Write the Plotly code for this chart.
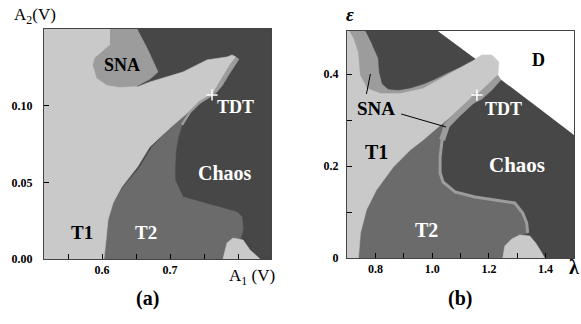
import plotly.graph_objects as go

# ---------------- colours ----------------
C_T1 = "#c9c9c9"
C_T2 = "#6b6b6b"
C_CH = "#474747"
C_SNA = "#9c9c9c"
FONT = "Liberation Serif"

# ---------------- panel (a) region boundaries (A1, A2) ----------------
a_t2_x = [0.6029, 0.6059, 0.6088, 0.6162, 0.6309, 0.6559, 0.6735, 0.7000, 0.7338, 0.7618,
          0.7441, 0.7294, 0.7176, 0.7118, 0.7088, 0.7074, 0.7074, 0.7191, 0.7441, 0.7691,
          0.7985, 0.8059, 0.8074, 0.8029, 0.7838, 0.7779]
a_t2_y = [0.0, 0.0124, 0.0255, 0.0366, 0.0471, 0.0601, 0.0732, 0.0856, 0.0987, 0.1072,
          0.1026, 0.0961, 0.0876, 0.0791, 0.0712, 0.0614, 0.0516, 0.0405, 0.0373, 0.0340,
          0.0307, 0.0275, 0.0190, 0.0124, 0.0105, 0.0]
a_patch_x = [0.7779, 0.7838, 0.7926, 0.8074, 0.8176, 0.8324]
a_patch_y = [0.0, 0.0105, 0.0137, 0.0124, 0.0059, 0.0]
a_t1_x = [0.5147, 0.6029, 0.6059, 0.6088, 0.6162, 0.6290, 0.6520, 0.6700, 0.7000, 0.7338, 0.7618,
          0.7691, 0.7765, 0.7882, 0.7971, 0.7912, 0.7838, 0.7544, 0.7191, 0.6853, 0.6706, 0.6515,
          0.6191, 0.5147]
a_t1_y = [0.0, 0.0, 0.0124, 0.0255, 0.0366, 0.0471, 0.0601, 0.0732, 0.0856, 0.0987, 0.1072,
          0.1124, 0.1183, 0.1268, 0.1320, 0.1333, 0.1320, 0.1301, 0.1222, 0.1176, 0.1157, 0.1124,
          0.1503, 0.1503]
a_sna_x = [0.6118, 0.6515, 0.6662, 0.6750, 0.6824, 0.6706, 0.6515, 0.6265, 0.6074, 0.5926,
           0.5868, 0.5897, 0.6118]
a_sna_y = [0.1503, 0.1503, 0.1379, 0.1288, 0.1222, 0.1176, 0.1131, 0.1124, 0.1137, 0.1183,
           0.1268, 0.1314, 0.1399]
a_fringe_x = [0.7971, 0.7882, 0.7765, 0.7691, 0.7618, 0.7676, 0.7765, 0.7853, 0.7941, 0.8015]
a_fringe_y = [0.1320, 0.1268, 0.1183, 0.1124, 0.1072, 0.1085, 0.1131, 0.1196, 0.1261, 0.1307]
a_edge_x = [0.7618, 0.7441, 0.7294, 0.7176]
a_edge_y = [0.1072, 0.1026, 0.0961, 0.0876]
a_tdt = (0.7618, 0.1072)

# ---------------- panel (b) region boundaries (lambda, epsilon) ----------------
b_d_x = [1.0175, 1.5, 1.5]
b_d_y = [0.4935, 0.4935, 0.2674]
b_t2_x = [0.7404, 0.7474, 0.7684, 0.8035, 0.8632, 0.9228, 0.9684, 1.0175, 1.0877, 1.1579,
          1.1404, 1.0982, 1.0526, 1.0351, 1.0281, 1.0281, 1.0386, 1.0807, 1.1509, 1.2211,
          1.2912, 1.3193, 1.3333, 1.3368, 1.3018, 1.2667, 1.2491]
b_t2_y = [0.0, 0.0543, 0.1043, 0.1478, 0.1978, 0.2348, 0.2565, 0.2826, 0.3174, 0.3543,
          0.3413, 0.3174, 0.2891, 0.2565, 0.2196, 0.1848, 0.1652, 0.1435, 0.1326, 0.1261,
          0.1196, 0.0978, 0.0761, 0.0543, 0.0478, 0.0326, 0.0]
b_patch_x = [1.2491, 1.2561, 1.2807, 1.3088, 1.3439, 1.3649, 1.3825, 1.3965]
b_patch_y = [0.0, 0.0261, 0.0413, 0.0500, 0.0478, 0.0326, 0.0152, 0.0]
b_t1_x = [0.70, 0.7404, 0.7474, 0.7684, 0.8035, 0.8632, 0.9228, 0.9684, 1.0175, 1.0877, 1.1579,
          1.1965, 1.2316, 1.2351, 1.2105, 1.1754, 1.1509, 1.0175, 0.70]
b_t1_y = [0.0, 0.0, 0.0543, 0.1043, 0.1478, 0.1978, 0.2348, 0.2565, 0.2826, 0.3174, 0.3543,
          0.3761, 0.3978, 0.4261, 0.4413, 0.4413, 0.4326, 0.4935, 0.4935]
b_sna_x = [0.7088, 1.0175, 1.1509, 1.0526, 0.9684, 0.8877, 0.8175, 0.7719, 0.7474, 0.7404, 0.7263]
b_sna_y = [0.4935, 0.4935, 0.4326, 0.3978, 0.3696, 0.3587, 0.3587, 0.3696, 0.3978, 0.4478, 0.4739]
b_lobe_x = [0.7649, 1.0175, 1.1509, 1.0982, 1.0526, 1.0105, 0.9684, 0.9228, 0.8807, 0.8456,
            0.8246, 0.8140, 0.8105, 0.7895]
b_lobe_y = [0.4935, 0.4935, 0.4326, 0.4152, 0.4022, 0.3891, 0.3783, 0.3696, 0.3652, 0.3674,
            0.3783, 0.4043, 0.4348, 0.4630]
b_fringe_x = [1.1579, 1.1965, 1.2316, 1.2421, 1.2105, 1.1754, 1.1404]
b_fringe_y = [0.3543, 0.3761, 0.3978, 0.3870, 0.3652, 0.3457, 0.3348]
b_edge_x = [1.1579, 1.1404, 1.0982, 1.0526, 1.0351, 1.0281, 1.0281, 1.0386, 1.0807, 1.1509,
            1.2211, 1.2912, 1.3193, 1.3333, 1.3368]
b_edge_y = [0.3543, 0.3413, 0.3174, 0.2891, 0.2565, 0.2196, 0.1848, 0.1652, 0.1435, 0.1326,
            0.1261, 0.1196, 0.0978, 0.0761, 0.0543]
b_ptr1_x = [0.7684, 0.7825]
b_ptr1_y = [0.3565, 0.4000]
b_ptr2_x = [0.8912, 1.0490]
b_ptr2_y = [0.3130, 0.2848]
b_tdt = (1.1579, 0.3543)

# ticks (labelled major ticks + unlabelled minor ticks)
a_xticks = [0.60, 0.70]
a_xtext = ["0.6", "0.7"]
a_xminor = [0.55, 0.65, 0.75, 0.80]
a_yticks = [0.0, 0.05, 0.10]
a_ytext = ["0.00", "0.05", "0.10"]
b_xticks = [0.8, 1.0, 1.2, 1.4]
b_xtext = ["0.8", "1.0", "1.2", "1.4"]
b_xminor = [0.9, 1.1, 1.3]
b_yticks = [0.0, 0.2, 0.4]
b_ytext = ["0", "0.2", "0.4"]
b_yminor = [0.1, 0.3]

fig = go.Figure()


def poly(xs, ys, color, ax="x", ay="y"):
    fig.add_trace(go.Scatter(x=xs, y=ys, fill="toself", fillcolor=color, mode="lines",
                             line=dict(color=color, width=0.6), hoverinfo="skip",
                             showlegend=False, xaxis=ax, yaxis=ay))


def line(xs, ys, color, w, ax="x", ay="y"):
    fig.add_trace(go.Scatter(x=xs, y=ys, mode="lines", line=dict(color=color, width=w),
                             hoverinfo="skip", showlegend=False, xaxis=ax, yaxis=ay))


# panel (a)
poly(a_t2_x, a_t2_y, C_T2)
poly(a_patch_x, a_patch_y, C_T1)
poly(a_t1_x, a_t1_y, C_T1)
poly(a_sna_x, a_sna_y, C_SNA)
poly(a_fringe_x, a_fringe_y, C_SNA)
line(a_edge_x, a_edge_y, C_SNA, 2.5)
fig.add_trace(go.Scatter(x=[a_tdt[0]], y=[a_tdt[1]], mode="markers", hoverinfo="skip",
                         showlegend=False,
                         marker=dict(symbol="cross-thin", size=8, line=dict(color="white", width=1.5))))

# panel (b)
poly(b_d_x, b_d_y, "white", "x2", "y2")
poly(b_t2_x, b_t2_y, C_T2, "x2", "y2")
poly(b_patch_x, b_patch_y, C_T1, "x2", "y2")
poly(b_t1_x, b_t1_y, C_T1, "x2", "y2")
poly(b_sna_x, b_sna_y, C_SNA, "x2", "y2")
poly(b_lobe_x, b_lobe_y, C_CH, "x2", "y2")
poly(b_fringe_x, b_fringe_y, C_SNA, "x2", "y2")
line(b_edge_x, b_edge_y, C_SNA, 3, "x2", "y2")
line(b_edge_x[:5], b_edge_y[:5], C_SNA, 6, "x2", "y2")
line(b_ptr1_x, b_ptr1_y, "black", 1, "x2", "y2")
line(b_ptr2_x, b_ptr2_y, "black", 1, "x2", "y2")
fig.add_trace(go.Scatter(x=[b_tdt[0]], y=[b_tdt[1]], mode="markers", hoverinfo="skip",
                         showlegend=False, xaxis="x2", yaxis="y2",
                         marker=dict(symbol="cross-thin", size=8, line=dict(color="white", width=1.5))))

tickfont = dict(family=FONT, size=12, color="black", weight="bold")
axcommon = dict(showgrid=False, zeroline=False, showline=True, mirror=True, linecolor="#444",
                linewidth=1, ticks="inside", ticklen=5, tickcolor="black", tickfont=tickfont,
                tickmode="array", fixedrange=True, automargin=False)


def minor(vals):
    return dict(tickmode="array", tickvals=vals, ticks="inside", ticklen=5, tickcolor="black",
                showgrid=False)


fig.update_layout(
    width=581, height=324, margin=dict(l=0, r=0, t=0, b=0),
    paper_bgcolor="white", plot_bgcolor=C_CH, showlegend=False,
    xaxis=dict(domain=[44 / 581, 271 / 581], range=[0.5147, 0.8485], anchor="y",
               tickvals=a_xticks, ticktext=a_xtext, minor=minor(a_xminor), **axcommon),
    yaxis=dict(domain=[1 - 259 / 324, 1 - 29 / 324], range=[0, 0.1503], anchor="x",
               tickvals=a_yticks, ticktext=a_ytext, ticklabelstandoff=8, **axcommon),
    xaxis2=dict(domain=[347 / 581, 574 / 581], range=[0.70, 1.5], anchor="y2",
                tickvals=b_xticks, ticktext=b_xtext, minor=minor(b_xminor), **axcommon),
    yaxis2=dict(domain=[1 - 258 / 324, 1 - 31 / 324], range=[0, 0.4935], anchor="x2",
                tickvals=b_yticks, ticktext=b_ytext, minor=minor(b_yminor),
                ticklabelstandoff=5, **axcommon),
)


def lab(text, x, y, color, size, ax="x", ay="y"):
    fig.add_annotation(text="<b>" + text + "</b>", x=x, y=y, xref=ax, yref=ay, showarrow=False,
                       xanchor="center", yanchor="middle",
                       font=dict(family=FONT, size=size, color=color))


lab("SNA", 0.6301, 0.1268, "black", 18)
lab("T1", 0.5706, 0.0170, "black", 19)
lab("T2", 0.6647, 0.0170, "white", 19)
lab("Chaos", 0.7809, 0.0565, "white", 20)
lab("TDT", 0.7956, 0.0990, "white", 18)

lab("SNA", 0.8018, 0.3250, "black", 19, "x2", "y2")
lab("T1", 0.8035, 0.2315, "black", 20, "x2", "y2")
lab("T2", 0.9807, 0.0598, "white", 20, "x2", "y2")
lab("Chaos", 1.2982, 0.2022, "white", 21, "x2", "y2")
lab("TDT", 1.2526, 0.3250, "white", 18, "x2", "y2")
lab("D", 1.3754, 0.4315, "black", 18, "x2", "y2")


def ptext(text, px, py, size, bold=False):
    t = "<b>" + text + "</b>" if bold else text
    fig.add_annotation(text=t, x=px / 581, y=1 - py / 324, xref="paper", yref="paper",
                       showarrow=False, xanchor="center", yanchor="middle",
                       font=dict(family=FONT, size=size, color="black"))


ptext("A<sub>2</sub>(V)", 35, 16, 17)
ptext("A<sub>1</sub> (V)", 252, 277, 17)
ptext("(a)", 147, 298, 20, True)
ptext("(b)", 460, 298, 20, True)
ptext("<i>ε</i>", 350, 15, 19, True)
ptext("λ", 574, 267, 20, True)

fig.write_html("out.html", config={"displayModeBar": False},
               post_script="document.body.style.margin='0px';document.body.style.overflow='hidden';")
